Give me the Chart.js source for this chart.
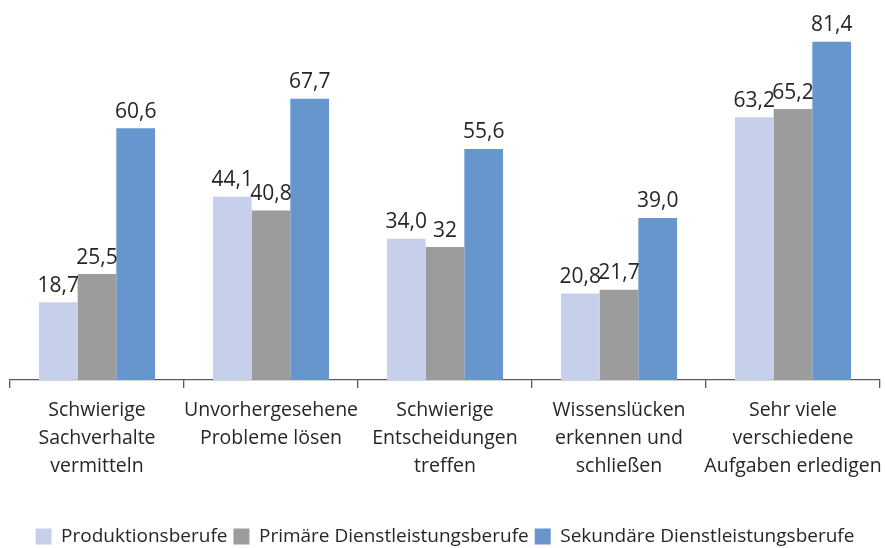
<!DOCTYPE html>
<html><head><meta charset="utf-8">
<script src="https://cdn.jsdelivr.net/npm/chart.js@4/dist/chart.umd.min.js"></script>
<style>html,body{margin:0;padding:0;background:#fff}#wrap{width:885px;height:548px}</style>
</head><body><div id="wrap"><canvas id="c" width="885" height="548"></canvas></div>
<script>
const categories = [
  ["Schwierige","Sachverhalte","vermitteln"],
  ["Unvorhergesehene","Probleme lösen"],
  ["Schwierige","Entscheidungen","treffen"],
  ["Wissenslücken","erkennen und","schließen"],
  ["Sehr viele","verschiedene","Aufgaben erledigen"]
];
const seriesNames = ["Produktionsberufe","Primäre Dienstleistungsberufe","Sekundäre Dienstleistungsberufe"];
const produktion = [18.7, 44.1, 34.0, 20.8, 63.2];
const primaer = [25.5, 40.8, 32, 21.7, 65.2];
const sekundaer = [60.6, 67.7, 55.6, 39.0, 81.4];
const produktionLabels = ["18,7","44,1","34,0","20,8","63,2"];
const primaerLabels = ["25,5","40,8","32","21,7","65,2"];
const sekundaerLabels = ["60,6","67,7","55,6","39,0","81,4"];
const colors = ["#C6D0EB","#9C9C9C","#6795CE"];
const FONT = "'Open Sans', sans-serif";

const labelPlugin = {
  id: 'valueLabels',
  afterDatasetsDraw(chart) {
    const ctx = chart.ctx;
    ctx.save();
    ctx.font = "21px " + FONT;
    ctx.fillStyle = "#262626";
    ctx.textAlign = "center";
    ctx.textBaseline = "bottom";
    chart.data.datasets.forEach((ds, i) => {
      const meta = chart.getDatasetMeta(i);
      meta.data.forEach((bar, j) => {
        ctx.fillText(ds.valueLabels[j], bar.x, bar.y - 6);
      });
    });
    ctx.restore();
  }
};

new Chart(document.getElementById('c'), {
  type: 'bar',
  data: {
    labels: categories,
    datasets: [
      {label: seriesNames[0], data: produktion, valueLabels: produktionLabels, backgroundColor: colors[0]},
      {label: seriesNames[1], data: primaer, valueLabels: primaerLabels, backgroundColor: colors[1]},
      {label: seriesNames[2], data: sekundaer, valueLabels: sekundaerLabels, backgroundColor: colors[2]}
    ]
  },
  options: {
    responsive: false,
    animation: false,
    devicePixelRatio: 1,
    layout: {padding: {left: 10, right: 5, top: 6, bottom: -8}},
    datasets: {bar: {categoryPercentage: 0.667, barPercentage: 1.0, borderWidth: 0}},
    scales: {
      x: {
        offset: true,
        grid: {offset: true, display: true, drawOnChartArea: false, drawTicks: true, tickLength: 8, color: '#595959', lineWidth: 1.3},
        border: {display: true, color: '#595959', width: 1.3},
        ticks: {color: '#262626', font: {family: FONT, size: 19.5, lineHeight: 1.436}, maxRotation: 0, autoSkip: false, padding: 8},
        afterFit(scale) { scale.height = 141; scale.paddingRight = 0; scale.paddingLeft = 0; }
      },
      y: {
        display: false,
        min: 0, max: 90
      }
    },
    plugins: {
      legend: {
        position: 'bottom',
        labels: {boxWidth: 16, boxHeight: 16, color: '#262626', font: {family: FONT, size: 19}, padding: 6}
      },
      tooltip: {enabled: false}
    }
  },
  plugins: [labelPlugin]
});
</script></body></html>
